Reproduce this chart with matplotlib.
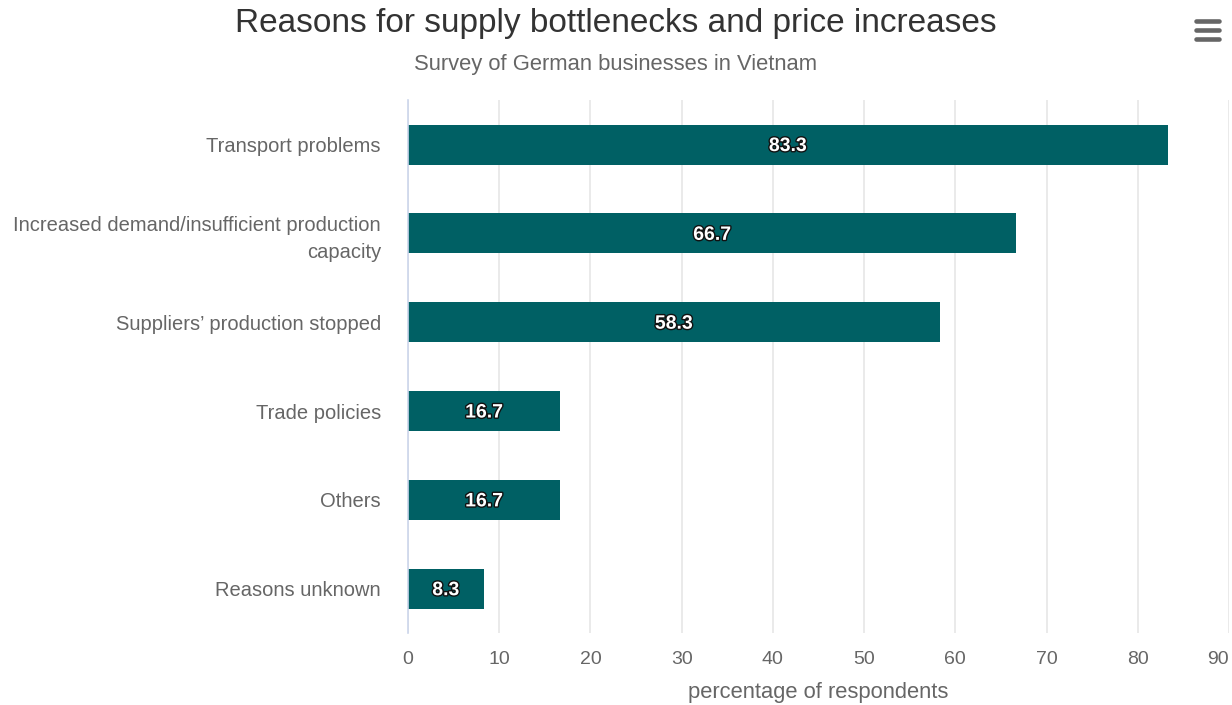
import matplotlib
matplotlib.use('Agg')
import matplotlib.pyplot as plt
import matplotlib.patheffects as pe
from matplotlib.lines import Line2D

plt.rcParams['font.family'] = ['Liberation Sans', 'DejaVu Sans']

categories = ['Transport problems',
              'Increased demand/insufficient production\ncapacity',
              'Suppliers\u2019 production stopped',
              'Trade policies',
              'Others',
              'Reasons unknown']
values = [83.3, 66.7, 58.3, 16.7, 16.7, 8.3]
xticks = [0, 10, 20, 30, 40, 50, 60, 70, 80, 90]

bar_color = '#006064'
label_color = '#666666'

fig = plt.figure(figsize=(12.32, 7.05), dpi=100)
ax = fig.add_axes([0.3312, 0.102, 0.6664, 0.756])

y = list(range(len(categories)))
ax.barh(y, values, height=0.45, color=bar_color, zorder=3)
ax.set_ylim(len(categories) - 0.5, -0.5)
ax.set_xlim(0, 90)
ax.set_xticks(xticks)
ax.set_yticks(y)
ax.set_yticklabels(categories, fontsize=14.5, color=label_color, linespacing=1.5)
ax.tick_params(axis='y', length=0, pad=19.5)
ax.tick_params(axis='x', length=0, pad=13, labelsize=14, labelcolor=label_color)
# last label is pulled inside the chart like in the original
ax.get_xticklabels()[-1].set_horizontalalignment('right')
ax.grid(axis='x', color='#e6e6e6', linewidth=1.2, zorder=0)
for s in ['top', 'right', 'bottom']:
    ax.spines[s].set_visible(False)
ax.spines['left'].set_color('#ccd6eb')
ax.spines['left'].set_linewidth(1.2)
ax.spines['left'].set_zorder(4)

for yi, v in zip(y, values):
    ax.text(v / 2, yi, f'{v:.1f}', ha='center', va='center_baseline', color='white',
            fontsize=14, fontweight='bold', zorder=5,
            path_effects=[pe.withStroke(linewidth=2, foreground='#111111')])

ax.set_xlabel('percentage of respondents', fontsize=15.8, color=label_color, labelpad=10)

fig.text(0.5, 0.966, 'Reasons for supply bottlenecks and price increases',
         ha='center', va='center', fontsize=24, color='#333333')
fig.text(0.5, 0.908, 'Survey of German businesses in Vietnam',
         ha='center', va='center', fontsize=15.8, color=label_color)

# menu icon
for yy in [0.9702, 0.9574, 0.9447]:
    fig.add_artist(Line2D([0.9705, 0.9895], [yy, yy], transform=fig.transFigure,
                          color='#666666', linewidth=3.3, solid_capstyle='round'))

fig.savefig('out.png', dpi=100)
